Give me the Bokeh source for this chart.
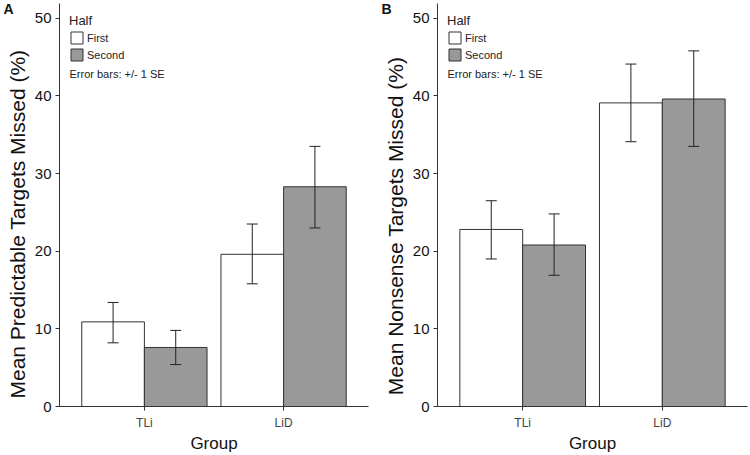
from bokeh.plotting import figure
from bokeh.layouts import row
from bokeh.models import (ColumnDataSource, FactorRange, Range1d, Whisker, TeeHead,
                          Label, FixedTicker, LinearAxis)
from bokeh.transform import dodge
from bokeh.embed import file_html
from bokeh.resources import INLINE

groups = ["TLi", "LiD"]
halves = ["First", "Second"]

a_first = [10.9, 19.6]
a_first_lo = [8.2, 15.8]
a_first_hi = [13.4, 23.5]
a_second = [7.6, 28.3]
a_second_lo = [5.4, 23.0]
a_second_hi = [9.8, 33.5]

b_first = [22.8, 39.1]
b_first_lo = [19.0, 34.1]
b_first_hi = [26.5, 44.1]
b_second = [20.8, 39.6]
b_second_lo = [16.9, 33.5]
b_second_hi = [24.8, 45.8]

y_ticks = [0, 10, 20, 30, 40, 50]
letter_tick = 51.3

FONT = "Liberation Sans"
FIG_H = 455
BORDER_T = 3
BORDER_B = 49
FRAME_H = FIG_H - BORDER_T - BORDER_B


def bare_axis(tick, text, size, bold=False, orientation="horizontal", standoff=0):
    return LinearAxis(ticker=FixedTicker(ticks=[tick]),
                      major_label_overrides={tick: text},
                      axis_line_color=None, major_tick_line_color=None, minor_tick_line_color=None,
                      major_tick_out=0, major_tick_in=0, major_label_standoff=standoff,
                      major_label_orientation=orientation,
                      major_label_text_font=FONT, major_label_text_font_size=size,
                      major_label_text_font_style="bold" if bold else "normal",
                      major_label_text_color="#111111")


def make_panel(letter, ylabel, title_pos, first, first_lo, first_hi, second, second_lo,
               second_hi, width, bl, br):
    p = figure(width=width, height=FIG_H, output_backend="svg", toolbar_location=None,
               x_range=FactorRange(factors=groups, range_padding=0.11, range_padding_units="absolute"),
               y_range=Range1d(0, 51.9),
               min_border_left=bl, min_border_right=br, min_border_top=BORDER_T,
               min_border_bottom=BORDER_B)
    p.outline_line_color = None
    p.xgrid.grid_line_color = None
    p.ygrid.grid_line_color = None
    p.background_fill_color = "white"

    src1 = ColumnDataSource(dict(group=groups, v=first, lo=first_lo, hi=first_hi))
    src2 = ColumnDataSource(dict(group=groups, v=second, lo=second_lo, hi=second_hi))

    p.vbar(x=dodge("group", -0.225, range=p.x_range), top="v", width=0.45, source=src1,
           fill_color="white", line_color="#333333", line_width=1, legend_label=halves[0])
    p.vbar(x=dodge("group", 0.225, range=p.x_range), top="v", width=0.45, source=src2,
           fill_color="#999999", line_color="#333333", line_width=1, legend_label=halves[1])

    for src, off in ((src1, -0.225), (src2, 0.225)):
        w = Whisker(base=dodge("group", off, range=p.x_range), upper="hi", lower="lo", source=src,
                    line_color="#222222", line_width=1, level="overlay",
                    upper_head=TeeHead(size=11, line_color="#222222", line_width=1),
                    lower_head=TeeHead(size=11, line_color="#222222", line_width=1))
        p.add_layout(w)

    # axes
    for ax in (p.xaxis[0], p.yaxis[0]):
        ax.axis_line_color = "#333333"
        ax.major_tick_line_color = "#333333"
        ax.major_tick_out = 4
        ax.major_tick_in = 0
        ax.minor_tick_line_color = None
        ax.axis_label_text_font = FONT
        ax.axis_label_text_font_style = "normal"
        ax.axis_label_text_color = "#111111"
        ax.major_label_text_font = FONT

    p.yaxis.ticker = FixedTicker(ticks=y_ticks)
    p.yaxis.major_label_text_font_size = "15px"
    p.yaxis.major_label_text_color = "#111111"
    p.yaxis.major_label_standoff = 4

    p.xaxis.major_label_text_font_size = "12px"
    p.xaxis.major_label_text_color = "#444444"
    p.xaxis.major_label_standoff = 5
    p.xaxis.axis_label = "Group"
    p.xaxis.axis_label_text_font_size = "17px"
    p.xaxis.axis_label_standoff = 1

    # y title (placed along the axis like the original) and the panel letter,
    # each drawn as the single label of a bare axis at the left
    p.add_layout(bare_axis(title_pos, ylabel, "21px", orientation="vertical", standoff=2), "left")
    p.add_layout(bare_axis(letter_tick, letter, "14px", bold=True, standoff=-10), "left")

    lg = p.legend[0]
    lg.title = "Half"
    lg.title_text_font = FONT
    lg.title_text_font_size = "13px"
    lg.title_text_font_style = "normal"
    lg.title_text_color = "#222222"
    lg.title_standoff = 2
    lg.label_text_font = FONT
    lg.label_text_font_size = "11px"
    lg.label_text_color = "#222222"
    lg.label_standoff = 3
    lg.glyph_width = 15
    lg.glyph_height = 15
    lg.label_height = 15
    lg.spacing = 2
    lg.padding = 0
    lg.margin = 10
    lg.background_fill_alpha = 0
    lg.border_line_color = None
    lg.location = "top_left"

    p.add_layout(Label(x=10, y=FRAME_H - 70, x_units="screen", y_units="screen",
                       text="Error bars: +/- 1 SE", text_font=FONT, text_font_size="11px",
                       text_color="#222222", text_baseline="middle"))
    return p


pa = make_panel("A", "Mean Predictable Targets Missed (%)", 23.5, a_first, a_first_lo, a_first_hi,
                a_second, a_second_lo, a_second_hi, 375, 59, 7)
pb = make_panel("B", "Mean Nonsense Targets Missed (%)", 23.25, b_first, b_first_lo, b_first_hi,
                b_second, b_second_lo, b_second_hi, 375, 62, 3)

layout = row(pa, pb)
open("out.html", "w").write(file_html(layout, INLINE))
